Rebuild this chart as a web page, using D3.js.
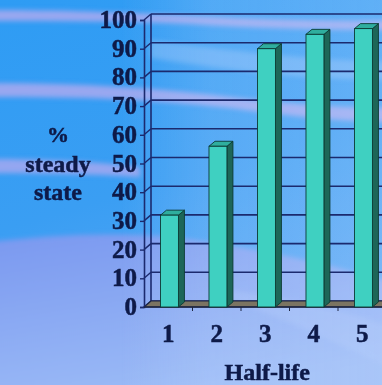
<!DOCTYPE html>
<html>
<head>
<meta charset="utf-8">
<script src="https://cdn.jsdelivr.net/npm/d3@7"></script>
<style>
  html, body { margin: 0; padding: 0; overflow: hidden; }
  svg { display: block; }
  text { font-family: "Liberation Serif", "Times New Roman", serif; font-weight: bold; fill: #0e1a48; stroke: #0e1a48; stroke-width: 0.5px; }
</style>
</head>
<body>
<svg id="chart" width="382" height="385"></svg>
<script>
// Percent of steady state reached after each half-life
const categories = ["1", "2", "3", "4", "5"];
const values = [32, 56, 90, 95, 97];
const yTicks = [0, 10, 20, 30, 40, 50, 60, 70, 80, 90, 100];
const yTitle = ["%", "steady", "state"];
const xTitle = "Half-life";

const W = 382, H = 385;
const svg = d3.select("#chart");
const defs = svg.append("defs");

// ---- slide background ----
const bg = defs.append("linearGradient").attr("id", "bg").attr("x1", 0).attr("y1", 0).attr("x2", 0.3).attr("y2", 1);
bg.append("stop").attr("offset", 0).attr("stop-color", "#2e9cf4");
bg.append("stop").attr("offset", 0.55).attr("stop-color", "#3a9ef3");
bg.append("stop").attr("offset", 1).attr("stop-color", "#5aa8f4");
const low = defs.append("linearGradient").attr("id", "low").attr("x1", 0).attr("y1", 0).attr("x2", 0.4).attr("y2", 1);
low.append("stop").attr("offset", 0).attr("stop-color", "#7a98f0");
low.append("stop").attr("offset", 1).attr("stop-color", "#9cbcf6");
const glow = defs.append("linearGradient").attr("id", "glow").attr("x1", 0).attr("y1", 0).attr("x2", 1).attr("y2", 0);
glow.append("stop").attr("offset", 0).attr("stop-color", "#c8dcff").attr("stop-opacity", 0);
glow.append("stop").attr("offset", 0.35).attr("stop-color", "#c8dcff").attr("stop-opacity", 0.22);
glow.append("stop").attr("offset", 1).attr("stop-color", "#c8dcff").attr("stop-opacity", 0.3);
defs.append("filter").attr("id", "soft").attr("x", -0.2).attr("y", -0.5).attr("width", 1.4).attr("height", 2)
  .append("feGaussianBlur").attr("stdDeviation", 2.5);

svg.append("rect").attr("width", W).attr("height", H).attr("fill", "url(#bg)");
const sheen = svg.append("g").attr("filter", "url(#soft)");
// lavender streaks across the slide
sheen.append("path").attr("d", "M-10,10 C60,10 120,12 200,16 C260,19 330,22 400,20 L400,30 C320,30 250,28 190,24 C120,21 60,21 -10,21 Z")
  .attr("fill", "#a4a8f0").attr("opacity", 0.9);
sheen.append("path").attr("d", "M-10,83 C80,83 160,88 240,98 C300,105 350,108 400,108 L400,122 C340,122 290,116 230,108 C150,99 80,97 -10,97 Z")
  .attr("fill", "#a4a8f0").attr("opacity", 0.9);
sheen.append("path").attr("d", "M-10,159 C40,159 90,161 140,167 L140,177 C90,174 40,173 -10,173 Z")
  .attr("fill", "#a4a8f0").attr("opacity", 0.85);
sheen.append("path").attr("d", "M150,40 C230,50 300,60 400,62 L400,80 C300,80 230,70 150,58 Z")
  .attr("fill", "#8ec0fa").attr("opacity", 0.5);
svg.append("path").attr("d", "M-10,242 C40,236 100,232 160,236 C240,244 320,262 400,284 L400,400 L-10,400 Z")
  .attr("fill", "url(#low)").attr("filter", "url(#soft)");
svg.append("path").attr("d", "M230,300 C290,320 340,345 400,372 L400,330 C350,312 300,300 230,290 Z")
  .attr("fill", "#b0c8fa").attr("opacity", 0.35).attr("filter", "url(#soft)");
// lighter haze over the right half of the slide
svg.append("rect").attr("x", 120).attr("y", 0).attr("width", W - 120).attr("height", H).attr("fill", "url(#glow)");

// ---- scales ----
const x0 = 144, x1 = 386.5, yBase = 307, yTop = 20;
const x = d3.scaleBand().domain(categories).range([x0, x1]);
const y = d3.scaleLinear().domain([0, 100]).range([yBase, yTop]);
const wallDx = 7, wallDy = -6;   // depth of the back wall
const barDx = 6, barDy = -5;     // depth of each bar
const ink = "#1b2a6e";

const plot = svg.append("g");

// back-wall gridlines
plot.append("g").selectAll("line").data(yTicks).join("line")
  .attr("x1", x0 + wallDx).attr("x2", W + 10)
  .attr("y1", d => y(d) + wallDy).attr("y2", d => y(d) + wallDy)
  .attr("stroke", ink).attr("stroke-width", 1.6);
// side-wall gridlines running back from the front axis
plot.append("g").selectAll("line").data(yTicks).join("line")
  .attr("x1", x0).attr("x2", x0 + wallDx)
  .attr("y1", d => y(d)).attr("y2", d => y(d) + wallDy)
  .attr("stroke", ink).attr("stroke-width", 1.4);
// wall edges
plot.append("line").attr("x1", x0 + wallDx).attr("x2", x0 + wallDx)
  .attr("y1", y(100) + wallDy).attr("y2", y(0) + wallDy)
  .attr("stroke", ink).attr("stroke-width", 1.6);

// floor
plot.append("path")
  .attr("d", `M${x0},${yBase} L${x0 + wallDx},${yBase + wallDy} L${W + 10},${yBase + wallDy} L${W + 10},${yBase} Z`)
  .attr("fill", "#7b7462").attr("stroke", "#1d2540").attr("stroke-width", 1.2);

// y axis (front edge with ticks and labels)
const yAxis = d3.axisLeft(y).tickValues(yTicks).tickSize(4).tickPadding(3);
const yg = plot.append("g").attr("transform", `translate(${x0},0)`).call(yAxis);
yg.select(".domain").attr("stroke", ink).attr("stroke-width", 1.6);
yg.selectAll(".tick line").attr("stroke", ink).attr("stroke-width", 1.4);
yg.selectAll(".tick text").attr("font-size", 25).attr("font-family", null).attr("dy", "0.3em")
  .style("fill", "#0e1a48");

// x axis baseline with small ticks between categories
plot.append("line").attr("x1", x0).attr("x2", W + 10).attr("y1", yBase).attr("y2", yBase)
  .attr("stroke", "#1d2540").attr("stroke-width", 1.4);
plot.append("g").selectAll("line").data(categories.slice(1)).join("line")
  .attr("x1", d => x(d)).attr("x2", d => x(d))
  .attr("y1", yBase).attr("y2", yBase + 4)
  .attr("stroke", "#1d2540").attr("stroke-width", 1);

// bars drawn as boxes: front, side and top faces
const bw = x.bandwidth() * 0.37;
const bars = plot.append("g").selectAll("g").data(values).join("g");
const bx = (d, i) => x(categories[i]) + x.bandwidth() * 0.34;
bars.append("path")
  .attr("d", (d, i) => {
    const l = bx(d, i) + bw, t = y(d);
    return `M${l},${t} L${l + barDx},${t + barDy} L${l + barDx},${yBase + barDy} L${l},${yBase} Z`;
  })
  .attr("fill", "#1d6658").attr("stroke", "#0c3a33").attr("stroke-width", 0.9);
bars.append("path")
  .attr("d", (d, i) => {
    const l = bx(d, i), t = y(d);
    return `M${l},${t} L${l + barDx},${t + barDy} L${l + bw + barDx},${t + barDy} L${l + bw},${t} Z`;
  })
  .attr("fill", "#2fae9e").attr("stroke", "#0c3a33").attr("stroke-width", 0.9);
bars.append("rect")
  .attr("x", (d, i) => bx(d, i)).attr("width", bw)
  .attr("y", d => y(d)).attr("height", d => yBase - y(d))
  .attr("fill", "#3fd0c1").attr("stroke", "#0c3a33").attr("stroke-width", 0.9);

// category labels
const xAxis = d3.axisBottom(x).tickSize(0).tickPadding(0);
const xg = svg.append("g").attr("transform", `translate(0,${yBase})`).call(xAxis);
xg.select(".domain").remove();
xg.selectAll(".tick text").attr("font-size", 25).attr("font-family", null)
  .attr("y", 35).attr("dy", 0).style("fill", "#0e1a48");

// axis titles
svg.append("text").attr("x", (x0 + x1) / 2 + 2).attr("y", 380).attr("text-anchor", "middle")
  .attr("font-size", 24).text(xTitle);
svg.append("g").selectAll("text").data(yTitle).join("text")
  .attr("x", 58).attr("y", (d, i) => [142, 172, 200][i])
  .attr("text-anchor", "middle").attr("font-size", (d, i) => i === 0 ? 22 : 24)
  .text(d => d);
</script>
</body>
</html>
